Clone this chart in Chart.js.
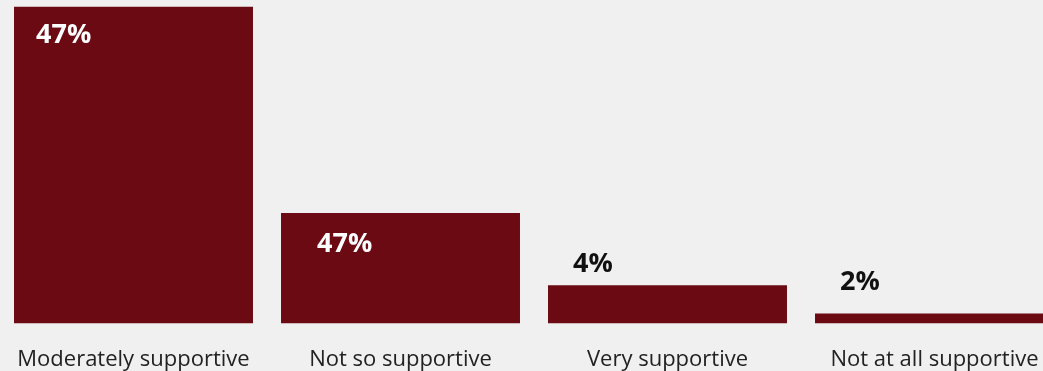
<!DOCTYPE html>
<html>
<head>
<meta charset="utf-8">
<script src="https://cdn.jsdelivr.net/npm/chart.js@4/dist/chart.umd.min.js"></script>
<style>
  html, body { margin: 0; padding: 0; background: #f0f0f0; overflow: hidden; }
  #wrap { width: 1068px; height: 371px; overflow: hidden; }
  canvas { display: block; }
</style>
</head>
<body>
<div id="wrap"><canvas id="chart" width="1068" height="396"></canvas></div>
<script>
// categories, bar heights (as drawn) and the printed labels
const categories = ['Moderately supportive', 'Not so supportive', 'Very supportive', 'Not at all supportive'];
const barValues = [47, 16.4, 5.7, 1.5];
const valueLabels = ['47%', '47%', '4%', '2%'];

const barColor = '#6b0a12';

// draws the value labels near the top left of each bar
const valueLabelPlugin = {
  id: 'valueLabels',
  afterDatasetsDraw(chart, args, opts) {
    const ctx = chart.ctx;
    const meta = chart.getDatasetMeta(0);
    ctx.save();
    ctx.font = 'bold 27px "Open Sans", sans-serif';
    ctx.textAlign = 'left';
    ctx.textBaseline = 'middle';
    meta.data.forEach((bar, i) => {
      const left = bar.x - bar.width / 2;
      const dy = opts.offsetsY[i];
      // inside the bar -> white, above it -> black
      ctx.fillStyle = dy > 0 ? '#ffffff' : '#111111';
      ctx.fillText(valueLabels[i], left + opts.offsetsX[i], bar.y + dy);
    });
    ctx.restore();
  }
};

new Chart(document.getElementById('chart'), {
  type: 'bar',
  data: {
    labels: categories,
    datasets: [{
      data: barValues,
      backgroundColor: barColor,
      barPercentage: 0.895,
      categoryPercentage: 1
    }]
  },
  options: {
    responsive: false,
    animation: false,
    layout: { padding: 0 },
    plugins: {
      legend: { display: false },
      tooltip: { enabled: false },
      valueLabels: { offsetsX: [22, 36, 25, 25], offsetsY: [29, 31, -21, -31] }
    },
    scales: {
      x: {
        grid: { display: false, drawTicks: false },
        border: { display: false },
        ticks: {
          color: '#222222',
          padding: 23,
          font: { family: '"Open Sans", sans-serif', size: 22 },
          maxRotation: 0
        },
        afterFit(scale) {
          // no extra side padding for the outer labels
          scale.paddingLeft = 0;
          scale.paddingRight = 0;
        }
      },
      y: {
        display: false,
        min: 0,
        max: 48
      }
    }
  },
  plugins: [valueLabelPlugin]
});
</script>
</body>
</html>
